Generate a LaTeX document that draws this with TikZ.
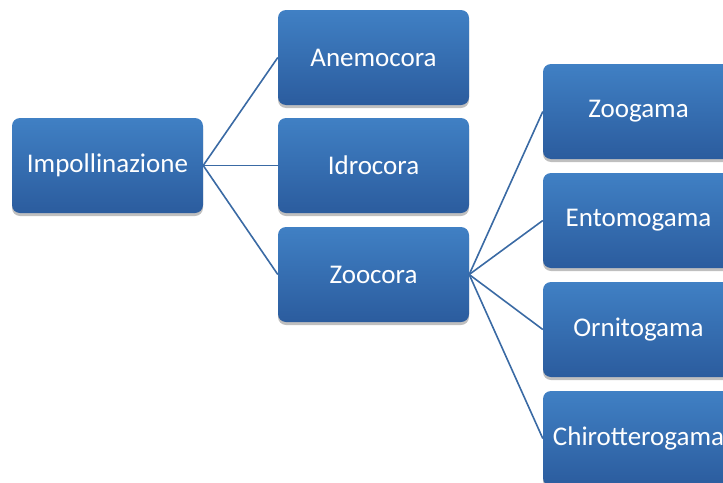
\documentclass[tikz,border=0pt]{standalone}
\usepackage{fontspec}
\setmainfont{Carlito}
\usetikzlibrary{shadows}
\definecolor{boxtop}{RGB}{64,128,196}
\definecolor{boxbot}{RGB}{43,92,158}
\definecolor{linecol}{RGB}{58,106,164}
\tikzset{
  box/.style={rounded corners=8pt, minimum width=191pt, minimum height=95pt,
    top color=boxtop, bottom color=boxbot, draw=none, text=white,
    font=\fontsize{27}{31}\selectfont, inner sep=0pt,
    drop shadow={shadow xshift=0pt, shadow yshift=-3pt, opacity=0.25, fill=black}},
  conn/.style={draw=linecol, line width=1.6pt}
}
\begin{document}
\begin{tikzpicture}
\useasboundingbox (0pt,0pt) rectangle (723pt,-482pt);
\clip (0pt,0pt) rectangle (723pt,-482pt);
\node[box] (imp) at (107.5pt,-165.5pt) {Impollinazione};
\node[box] (ane) at (373.5pt,-57.5pt) {Anemocora};
\node[box] (idr) at (373.5pt,-165.5pt) {Idrocora};
\node[box] (zoo) at (373.5pt,-274.5pt) {Zoocora};
\node[box] (zog) at (638.5pt,-111.5pt) {Zoogama};
\node[box] (ent) at (638.5pt,-220.5pt) {Entomogama};
\node[box] (orn) at (638.5pt,-329.5pt) {Ornitogama};
\node[box] (chi) at (638.5pt,-438.5pt) {Chirotterogama};
\draw[conn] (imp.east) -- (ane.west);
\draw[conn] (imp.east) -- (idr.west);
\draw[conn] (imp.east) -- (zoo.west);
\draw[conn] (zoo.east) -- (zog.west);
\draw[conn] (zoo.east) -- (ent.west);
\draw[conn] (zoo.east) -- (orn.west);
\draw[conn] (zoo.east) -- (chi.west);
\end{tikzpicture}
\end{document}
